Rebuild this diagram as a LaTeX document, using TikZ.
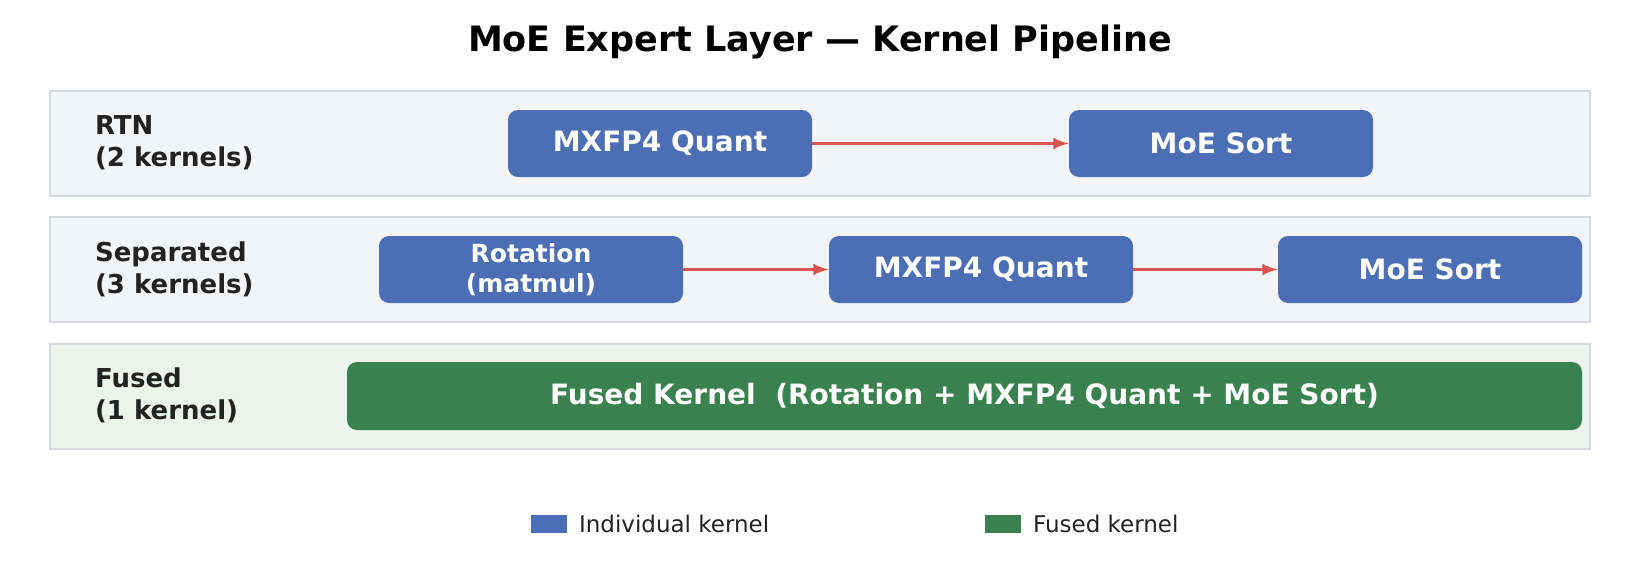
\documentclass[tikz,border=0pt]{standalone}
\usepackage{fontspec}
\setmainfont{DejaVu Sans}
\usetikzlibrary{positioning}
\definecolor{kblue}{HTML}{4C6EB5}
\definecolor{kgreen}{HTML}{3A8150}
\definecolor{kred}{HTML}{D9534F}
\definecolor{bandgray}{HTML}{F3F4F6}
\definecolor{bandgreen}{HTML}{EAF3EC}
\definecolor{bandline}{HTML}{D5D8DC}
\definecolor{labtext}{HTML}{222222}
\tikzset{>=latex,
  band/.style={draw=bandline, line width=0.8pt, fill=bandgray},
  kernel/.style={rounded corners=5pt, fill=kblue, text=white, font=\bfseries\fontsize{14}{15}\selectfont, minimum width=152pt, minimum height=33.5pt, inner sep=0pt, align=center},
  fused/.style={kernel, fill=kgreen, minimum width=617.5pt, minimum height=34pt},
  rowlab/.style={anchor=west, align=left, text=labtext, font=\bfseries\fontsize{13}{16}\selectfont},
  flow/.style={->, kred, line width=1.6pt},
  legtext/.style={anchor=west, text=labtext, font=\fontsize{11.5}{13}\selectfont}}
\begin{document}
\begin{tikzpicture}[x=0.5pt, y=-0.5pt]
    \useasboundingbox (0,0) rectangle (1640,562);
    \node[font=\bfseries\fontsize{17.5}{20}\selectfont] (title) at (820,42) {MoE Expert Layer — Kernel Pipeline};

    % bands
    \draw[band] (50,91) rectangle (1590,196);
    \draw[band] (50,217) rectangle (1590,322);
    \draw[band, fill=bandgreen] (50,344) rectangle (1590,449);

    \node[rowlab] (lab1) at (88,143) {RTN\\(2 kernels)};
    \node[rowlab] (lab2) at (88,269) {Separated\\(3 kernels)};
    \node[rowlab] (lab3) at (88,395) {Fused\\(1 kernel)};

    % RTN
    \node[kernel] (rq) at (660,143.5) {MXFP4 Quant};
    \node[kernel] (rs) at (1221,143.5) {MoE Sort};
    \draw[flow] (rq) -- (rs);

    % separated
    \node[kernel, font=\bfseries\fontsize{12.5}{15}\selectfont] (sr) at (531,269.5) {Rotation\\(matmul)};
    \node[kernel] (sq) at (981,269.5) {MXFP4 Quant};
    \node[kernel] (ss) at (1430,269.5) {MoE Sort};
    \draw[flow] (sr) -- (sq);
    \draw[flow] (sq) -- (ss);

    % fused
    \node[fused] (fk) at (964.5,396) {Fused Kernel\ \ (Rotation + MXFP4 Quant + MoE Sort)};

    % legend
    \fill[kblue] (531,515) rectangle (567,533);
    \node[legtext] (leg1) at (572,524) {Individual kernel};
    \fill[kgreen] (985,515) rectangle (1021,533);
    \node[legtext] (leg2) at (1026,524) {Fused kernel};
\end{tikzpicture}
\end{document}
